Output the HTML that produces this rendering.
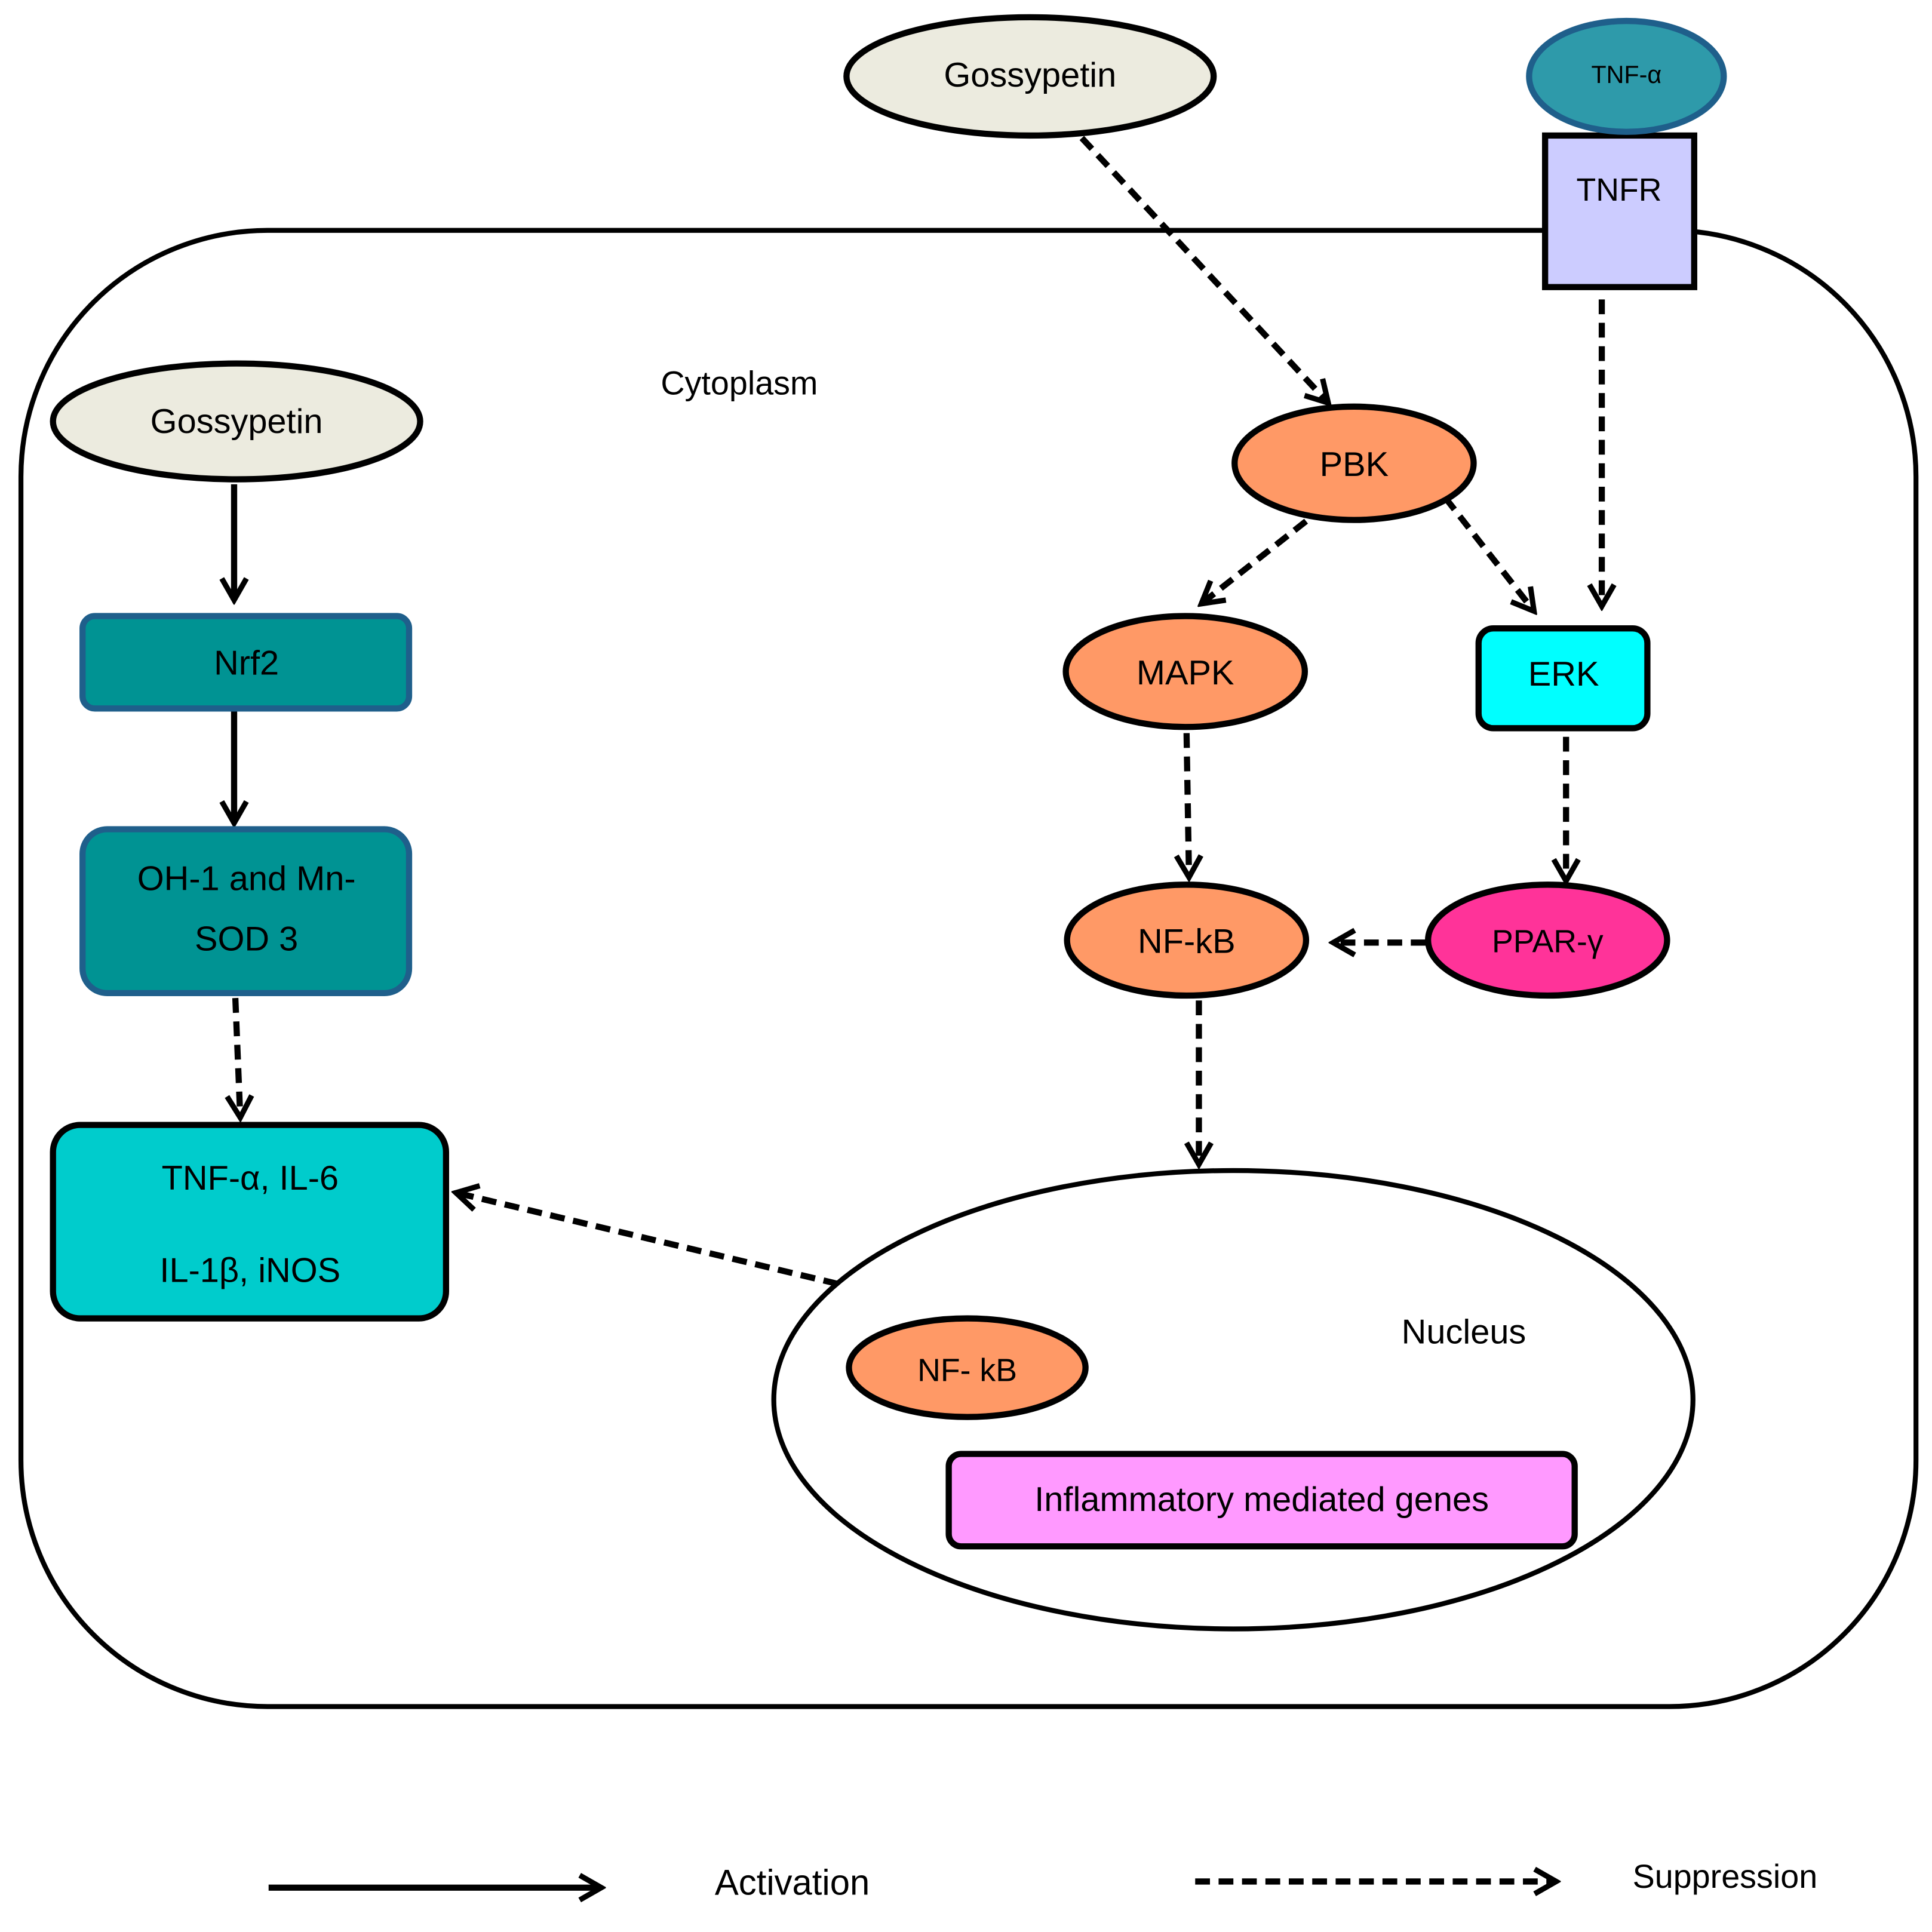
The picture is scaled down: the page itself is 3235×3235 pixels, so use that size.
<!DOCTYPE html>
<html><head><meta charset="utf-8"><style>
html,body{margin:0;padding:0;background:#fff;}
svg{display:block;}
text{font-family:"Liberation Sans",sans-serif;fill:#000;text-anchor:middle;dominant-baseline:middle;}
</style></head><body>
<svg width="3235" height="3235" viewBox="0 0 1568 1568" xmlns="http://www.w3.org/2000/svg">
<defs>
<marker id="ah" viewBox="0 0 20 20" refX="17" refY="10" markerWidth="5" markerHeight="5" orient="auto" markerUnits="strokeWidth">
<polyline points="3,2 17,10 3,18" fill="none" stroke="#000" stroke-width="3.5" stroke-linejoin="miter"/>
</marker>
</defs>
<rect x="17" y="187" width="1538" height="1198" rx="200" ry="200" fill="none" stroke="#000" stroke-width="4"/>
<g stroke="#000" stroke-width="5" fill="none" marker-end="url(#ah)" stroke-dasharray="12,7">
<line x1="878" y1="112" x2="1078" y2="327"/>
<line x1="1300" y1="243" x2="1300" y2="492"/>
<line x1="1060" y1="423" x2="975" y2="490"/>
<line x1="1173" y1="404" x2="1245" y2="496"/>
<line x1="963" y1="595" x2="965" y2="712"/>
<line x1="1271" y1="598" x2="1271" y2="715"/>
<line x1="1157" y1="765" x2="1082" y2="765"/>
<line x1="973" y1="812" x2="973" y2="945"/>
<line x1="680" y1="1042" x2="370" y2="968"/>
<line x1="191" y1="810" x2="195" y2="907"/>
<line x1="970" y1="1527" x2="1263" y2="1527"/>
</g>
<g stroke="#000" stroke-width="5" fill="none" marker-end="url(#ah)">
<line x1="190" y1="393" x2="190" y2="487"/>
<line x1="190" y1="576" x2="190" y2="668"/>
<line x1="218" y1="1532" x2="488" y2="1532"/>
</g>
<ellipse cx="836" cy="62" rx="149" ry="48" fill="#ECEBDF" stroke="#000" stroke-width="5"/>
<text x="836" y="63" font-size="28">Gossypetin</text>
<rect x="1254" y="110" width="121" height="123" fill="#CCCCFF" stroke="#000" stroke-width="5"/>
<text x="1314" y="156" font-size="26">TNFR</text>
<ellipse cx="1320" cy="62" rx="79" ry="45" fill="#2E9AAA" stroke="#1F5F8B" stroke-width="5"/>
<text x="1320" y="62" font-size="20">TNF-α</text>
<text x="600" y="313" font-size="27">Cytoplasm</text>
<ellipse cx="192" cy="342" rx="149" ry="47" fill="#ECEBDF" stroke="#000" stroke-width="5"/>
<text x="192" y="344" font-size="28">Gossypetin</text>
<rect x="67" y="500" width="265" height="75" rx="10" fill="#009393" stroke="#1F5F8B" stroke-width="5"/>
<text x="200" y="540" font-size="28">Nrf2</text>
<rect x="67" y="673" width="265" height="133" rx="20" fill="#009393" stroke="#1F5F8B" stroke-width="5"/>
<text x="200" y="715" font-size="28">OH-1 and Mn-</text>
<text x="200" y="764" font-size="28">SOD 3</text>
<rect x="43" y="913" width="319" height="157" rx="22" fill="#00CCCC" stroke="#000" stroke-width="5"/>
<text x="203" y="958" font-size="28">TNF-α, IL-6</text>
<text x="203" y="1033" font-size="28">IL-1β, iNOS</text>
<ellipse cx="1099" cy="376" rx="97" ry="46" fill="#FF9966" stroke="#000" stroke-width="5"/>
<text x="1099" y="379" font-size="28">PBK</text>
<ellipse cx="962" cy="545" rx="97" ry="45" fill="#FF9966" stroke="#000" stroke-width="5"/>
<text x="962" y="548" font-size="28">MAPK</text>
<rect x="1200" y="510" width="137" height="81" rx="12" fill="#00FFFF" stroke="#000" stroke-width="5"/>
<text x="1269" y="549" font-size="28">ERK</text>
<ellipse cx="963" cy="763" rx="97" ry="45" fill="#FF9966" stroke="#000" stroke-width="5"/>
<text x="963" y="766" font-size="28">NF-kB</text>
<ellipse cx="1256" cy="763" rx="97" ry="45" fill="#FF3399" stroke="#000" stroke-width="5"/>
<text x="1256" y="766" font-size="26">PPAR-γ</text>
<ellipse cx="1001" cy="1136" rx="373" ry="186" fill="#fff" stroke="#000" stroke-width="4"/>
<text x="1188" y="1083" font-size="28">Nucleus</text>
<ellipse cx="785" cy="1110" rx="96" ry="40" fill="#FF9966" stroke="#000" stroke-width="5"/>
<text x="785" y="1114" font-size="26">NF- kB</text>
<rect x="770" y="1180" width="508" height="75" rx="10" fill="#FF99FF" stroke="#000" stroke-width="5"/>
<text x="1024" y="1219" font-size="28">Inflammatory mediated genes</text>
<text x="643" y="1530" font-size="29">Activation</text>
<text x="1400" y="1525" font-size="27">Suppression</text>
</svg>
</body></html>
